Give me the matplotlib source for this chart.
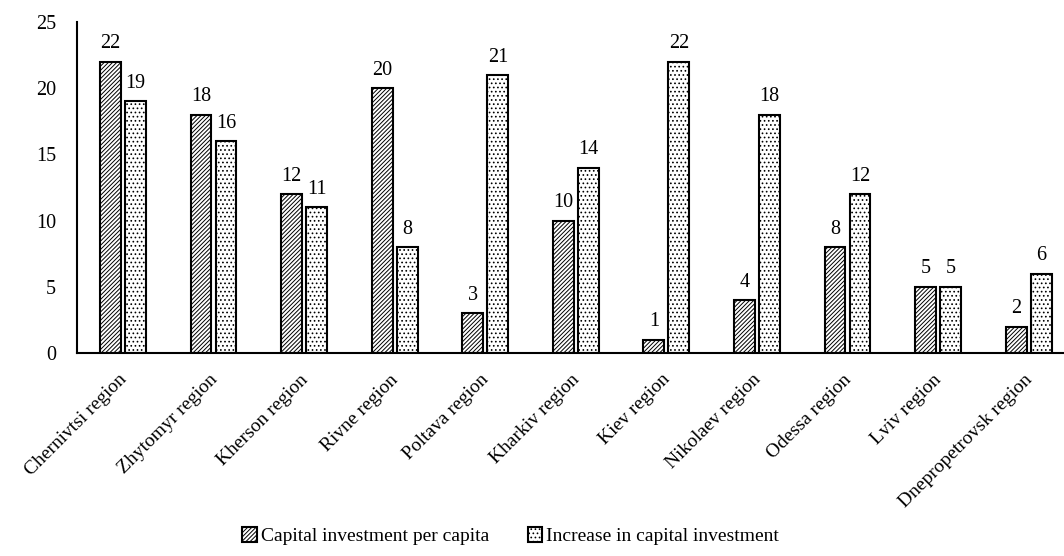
import matplotlib
matplotlib.use("Agg")
import matplotlib.pyplot as plt
import matplotlib.transforms as mtransforms
import numpy as np

categories = ["Chernivtsi region", "Zhytomyr region", "Kherson region", "Rivne region",
              "Poltava region", "Kharkiv region", "Kiev region", "Nikolaev region",
              "Odessa region", "Lviv region", "Dnepropetrovsk region"]
capital_per_capita = [22, 18, 12, 20, 3, 10, 1, 4, 8, 5, 2]
increase_capital = [19, 16, 11, 8, 21, 14, 22, 18, 12, 5, 6]
series_names = ["Capital investment per capita", "Increase in capital investment"]
yticks = [0, 5, 10, 15, 20, 25]

plt.rcParams['font.family'] = ['Liberation Serif', 'DejaVu Serif']
plt.rcParams['hatch.linewidth'] = 0.7

FS = 14.5

fig = plt.figure(figsize=(10.64, 5.56), dpi=100)
ax = fig.add_axes([77/1064, 1-353/556, 1-77/1064, (353-22)/556])

x = np.arange(len(categories))
w = 0.23
off = 0.138
b1 = ax.bar(x - off, capital_per_capita, w, color='white', edgecolor='black',
            linewidth=1.5, hatch='////////', label=series_names[0])
b2 = ax.bar(x + off, increase_capital, w, color='white', edgecolor='black',
            linewidth=1.5, hatch='....', label=series_names[1])
for bars in (b1, b2):
    ax.bar_label(bars, padding=6, fontsize=FS)

ax.set_xlim(-0.508, 10.39)
ax.set_ylim(0, 25)
ax.set_yticks(yticks)
ax.set_xticks(x)
ax.set_xticklabels(categories, rotation=45, ha='right', rotation_mode='anchor', fontsize=14)
ax.tick_params(axis='both', length=0)
ax.tick_params(axis='y', pad=15, labelsize=FS)
ax.tick_params(axis='x', pad=13)
shift = mtransforms.ScaledTranslation(-5/100, 0, fig.dpi_scale_trans)
for lab in ax.get_xticklabels():
    lab.set_transform(lab.get_transform() + shift)
for s in ['top', 'right']:
    ax.spines[s].set_visible(False)
ax.spines['left'].set_linewidth(1.5)
ax.spines['bottom'].set_linewidth(1.5)

leg = fig.legend(loc='lower center', bbox_to_anchor=(0.48, -0.012), ncol=2, frameon=False,
                 fontsize=14, handlelength=0.75, handleheight=0.75, handletextpad=0.2,
                 columnspacing=2.0)

fig.savefig("out.png", dpi=100)
